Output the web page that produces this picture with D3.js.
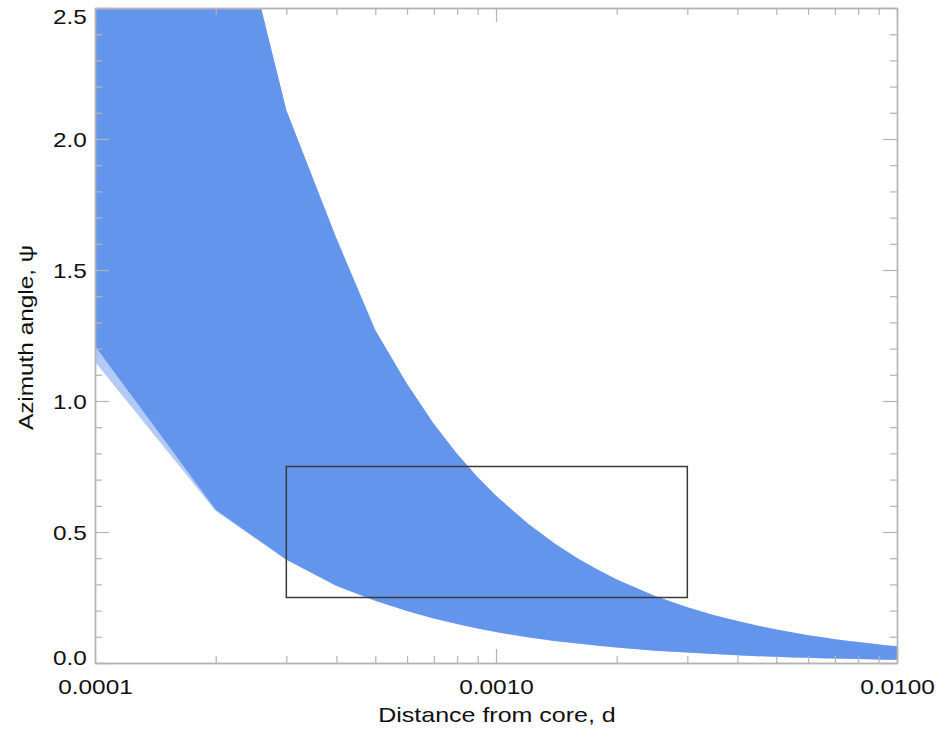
<!DOCTYPE html>
<html>
<head>
<meta charset="utf-8">
<script src="https://cdn.jsdelivr.net/npm/d3@7"></script>
<style>
  html, body { margin: 0; padding: 0; background: #fff; }
  svg { display: block; font-family: "Liberation Sans", Arial, Helvetica, sans-serif; }
</style>
</head>
<body>
<svg id="chart" width="942" height="731"></svg>
<script>
// ---- data ----
const distances = [1e-4, 2e-4, 3e-4, 4e-4, 5e-4, 6e-4, 7e-4, 8e-4, 9e-4, 1e-3,
                   1.2e-3, 1.4e-3, 1.6e-3, 1.8e-3, 2e-3, 2.5e-3, 3e-3, 3.5e-3, 4e-3, 4.5e-3,
                   5e-3, 5.5e-3, 6e-3, 6.5e-3, 7e-3, 7.5e-3, 8e-3, 8.5e-3, 9e-3, 9.5e-3, 1e-2];
const psiUpper  = [6.40, 3.20, 2.11, 1.62, 1.27, 1.065, 0.912, 0.798, 0.709, 0.638,
                   0.532, 0.456, 0.399, 0.355, 0.319, 0.255, 0.213, 0.182, 0.160, 0.142,
                   0.128, 0.116, 0.106, 0.098, 0.091, 0.085, 0.080, 0.075, 0.071, 0.067, 0.064];
const psiLower  = [1.21, 0.585, 0.395, 0.295, 0.238, 0.198, 0.170, 0.149, 0.132, 0.118,
                   0.098, 0.084, 0.074, 0.066, 0.059, 0.047, 0.040, 0.034, 0.030, 0.026,
                   0.024, 0.021, 0.020, 0.018, 0.017, 0.016, 0.015, 0.014, 0.013, 0.0125, 0.012];
const psiLowerFaint = [1.15, 0.580, 0.393, 0.294, 0.238, 0.198, 0.170, 0.149, 0.132, 0.118,
                   0.098, 0.084, 0.074, 0.066, 0.059, 0.047, 0.040, 0.034, 0.030, 0.026,
                   0.024, 0.021, 0.020, 0.018, 0.017, 0.016, 0.015, 0.014, 0.013, 0.0125, 0.012];
const boxD   = [3e-4, 3e-3];
const boxPsi = [0.25, 0.75];
const xMajorTicks = [1e-4, 1e-3, 1e-2];
const xTickLabels = ["0.0001", "0.0010", "0.0100"];
const xMinorTicks = [2e-4,3e-4,4e-4,5e-4,6e-4,7e-4,8e-4,9e-4,2e-3,3e-3,4e-3,5e-3,6e-3,7e-3,8e-3,9e-3];
const yMajorTicks = [0, 0.5, 1.0, 1.5, 2.0, 2.5];
const yTickLabels = ["0.0", "0.5", "1.0", "1.5", "2.0", "2.5"];
const yMinorTicks = [0.1,0.2,0.3,0.4,0.6,0.7,0.8,0.9,1.1,1.2,1.3,1.4,1.6,1.7,1.8,1.9,2.1,2.2,2.3,2.4];
const xTitle = "Distance from core, d";
const yTitle = "Azimuth angle, \u03C8";

// ---- layout ----
const L = 95, R = 897, T = 8, B = 663;
const SX = 1.16; // horizontal glyph stretch of the reference font
const axisColor = "#b4b4b4";
const bandColor = "#6495ED";

const svg = d3.select("#chart");
const x = d3.scaleLog().domain([1e-4, 1e-2]).range([L, R]);
const y = d3.scaleLinear().domain([0, 2.5]).range([B, T]);

svg.append("defs").append("clipPath").attr("id", "plotclip")
  .append("rect").attr("x", L).attr("y", T).attr("width", R - L).attr("height", B - T);

const rows = distances.map((d, i) => ({ d, hi: psiUpper[i], lo: psiLower[i], lf: psiLowerFaint[i] }));

const plot = svg.append("g").attr("clip-path", "url(#plotclip)");
plot.append("path").datum(rows)
  .attr("fill", bandColor).attr("fill-opacity", 0.5)
  .attr("d", d3.area().x(r => x(r.d)).y0(r => y(r.lf)).y1(r => y(r.hi)));
plot.append("path").datum(rows)
  .attr("fill", bandColor)
  .attr("d", d3.area().x(r => x(r.d)).y0(r => y(r.lo)).y1(r => y(r.hi)));

// rectangle
svg.append("rect")
  .attr("x", x(boxD[0])).attr("y", y(boxPsi[1]))
  .attr("width", x(boxD[1]) - x(boxD[0])).attr("height", y(boxPsi[0]) - y(boxPsi[1]))
  .attr("fill", "none").attr("stroke", "#3a3a3a").attr("stroke-width", 1.5);

function styleAxis(g) {
  g.selectAll("path.domain").attr("stroke", axisColor).attr("stroke-width", 1.4);
  g.selectAll(".tick line").attr("stroke", axisColor).attr("stroke-width", 1.2);
}

// minor ticks on all four sides
[[d3.axisBottom(x), `translate(0,${B})`, xMinorTicks],
 [d3.axisTop(x), `translate(0,${T})`, xMinorTicks],
 [d3.axisLeft(y), `translate(${L},0)`, yMinorTicks],
 [d3.axisRight(y), `translate(${R},0)`, yMinorTicks]].forEach(([ax, tr, vals]) => {
  svg.append("g").attr("transform", tr)
    .call(ax.tickValues(vals).tickSize(-7).tickSizeOuter(0).tickFormat(""))
    .call(styleAxis);
});

// major ticks without labels on top/right
svg.append("g").attr("transform", `translate(0,${T})`)
  .call(d3.axisTop(x).tickValues(xMajorTicks).tickSize(-14).tickSizeOuter(0).tickFormat(""))
  .call(styleAxis);
svg.append("g").attr("transform", `translate(${R},0)`)
  .call(d3.axisRight(y).tickValues(yMajorTicks).tickSize(-14).tickSizeOuter(0).tickFormat(""))
  .call(styleAxis);

// labelled bottom axis
const gx = svg.append("g").attr("transform", `translate(0,${B})`)
  .call(d3.axisBottom(x).tickValues(xMajorTicks).tickSize(-14).tickSizeOuter(0)
    .tickPadding(16).tickFormat((d, i) => xTickLabels[i]))
  .call(styleAxis);
gx.selectAll("text").attr("font-size", 21).attr("fill", "#111")
  .attr("font-family", "Liberation Sans, Arial, sans-serif")
  .attr("transform", `scale(${SX},1)`);

// labelled left axis
const gy = svg.append("g").attr("transform", `translate(${L},0)`)
  .call(d3.axisLeft(y).tickValues(yMajorTicks).tickSize(-14).tickSizeOuter(0)
    .tickPadding(7).tickFormat((d, i) => yTickLabels[i]))
  .call(styleAxis);
gy.selectAll("text").attr("font-size", 21).attr("fill", "#111")
  .attr("font-family", "Liberation Sans, Arial, sans-serif")
  .attr("transform", `scale(${SX},1)`)
  .attr("y", d => d === 2.5 ? 9 : (d === 0 ? -5 : 1));

// titles
svg.append("text")
  .attr("transform", `translate(${(L + R) / 2 + 1},722) scale(1.19,1)`)
  .attr("text-anchor", "middle").attr("font-size", 21).attr("fill", "#111")
  .text(xTitle);
svg.append("text")
  .attr("transform", `translate(33,${(T + B) / 2 + 2}) rotate(-90) scale(${SX},1)`)
  .attr("text-anchor", "middle").attr("font-size", 21).attr("fill", "#111")
  .text(yTitle);
</script>
</body>
</html>
